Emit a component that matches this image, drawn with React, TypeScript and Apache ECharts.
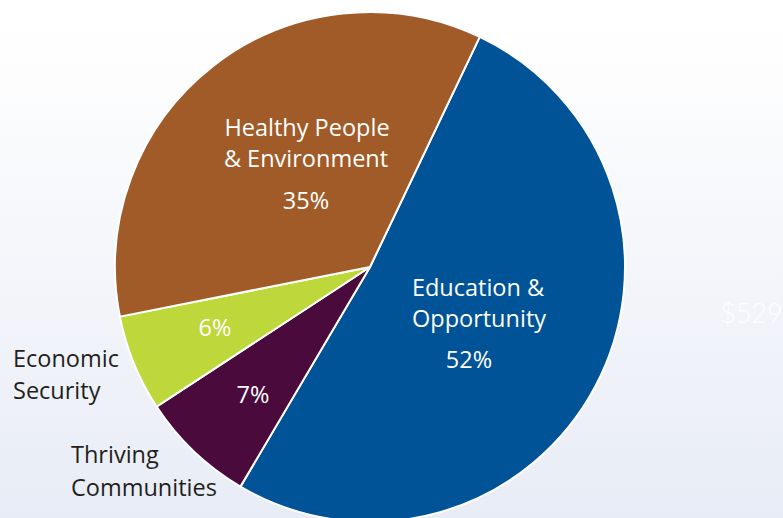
import React, { useEffect, useRef } from "react";
import * as echarts from "echarts";

const categories = [
  "Education & Opportunity",
  "Thriving Communities",
  "Economic Security",
  "Healthy People & Environment",
];
const values = [51.4, 7.3, 6.1, 35.2];
const percentLabels = ["52%", "7%", "6%", "35%"];
const colors = ["#005396", "#4a0a3b", "#bed73a", "#a15b28"];
const labelLines = [
  ["Education &", "Opportunity"],
  ["Thriving", "Communities"],
  ["Economic", "Security"],
  ["Healthy People", "& Environment"],
];
const totalLabel = "$529";

const FONT = "'Open Sans', 'Noto Sans', sans-serif";

export default function App() {
  const ref = useRef<HTMLDivElement>(null);
  useEffect(() => {
    if (!ref.current) return;
    const chart = echarts.init(ref.current, null, { renderer: "svg" });
    const white = { fill: "#ffffff", fontFamily: FONT, fontSize: 23.5 };
    const dark = { fill: "#231f20", fontFamily: FONT, fontSize: 23.5 };
    const t = (text: string, x: number, y: number, st: any, align = "center") => ({
      type: "text",
      x,
      y,
      silent: true,
      z: 100,
      style: { ...st, text, align, verticalAlign: "middle" },
    });
    const graphics = [
      // Education & Opportunity
      t(labelLines[0][0], 478, 287, white),
      t(labelLines[0][1], 479, 318, white),
      t(percentLabels[0], 469, 359, white),
      // Healthy People & Environment
      t(labelLines[3][0], 307, 127, white),
      t(labelLines[3][1], 306, 158, white),
      t(percentLabels[3], 306, 200, white),
      // Economic Security
      t(percentLabels[2], 215, 327, white),
      t(labelLines[2][0], 13, 358, dark, "left"),
      t(labelLines[2][1], 13, 390, dark, "left"),
      // Thriving Communities
      t(percentLabels[1], 253, 394, white),
      t(labelLines[1][0], 71, 454, dark, "left"),
      t(labelLines[1][1], 71, 487, dark, "left"),
      // faint total
      t(totalLabel, 720, 312, { fill: "rgba(255,255,255,0.9)", fontFamily: "Lato, sans-serif", fontSize: 27, fontWeight: 300 }, "left"),
    ];
    chart.setOption({
      animation: false,
      backgroundColor: new echarts.graphic.LinearGradient(0, 0, 0, 1, [
        { offset: 0, color: "#ffffff" },
        { offset: 0.1, color: "#fefefe" },
        { offset: 1, color: "#e8ecf6" },
      ]),
      series: [
        {
          type: "pie",
          center: [370, 267],
          radius: [0, 255],
          startAngle: 64.5,
          clockwise: true,
          label: { show: false },
          labelLine: { show: false },
          emphasis: { disabled: true },
          itemStyle: { borderColor: "#ffffff", borderWidth: 2 },
          data: categories.map((name, i) => ({
            name,
            value: values[i],
            itemStyle: { color: colors[i] },
          })),
        },
      ],
      graphic: graphics,
    });
    return () => chart.dispose();
  }, []);
  return (
    <div
      ref={ref}
      style={{ position: "fixed", left: 0, top: 0, width: 783, height: 518 }}
    />
  );
}
